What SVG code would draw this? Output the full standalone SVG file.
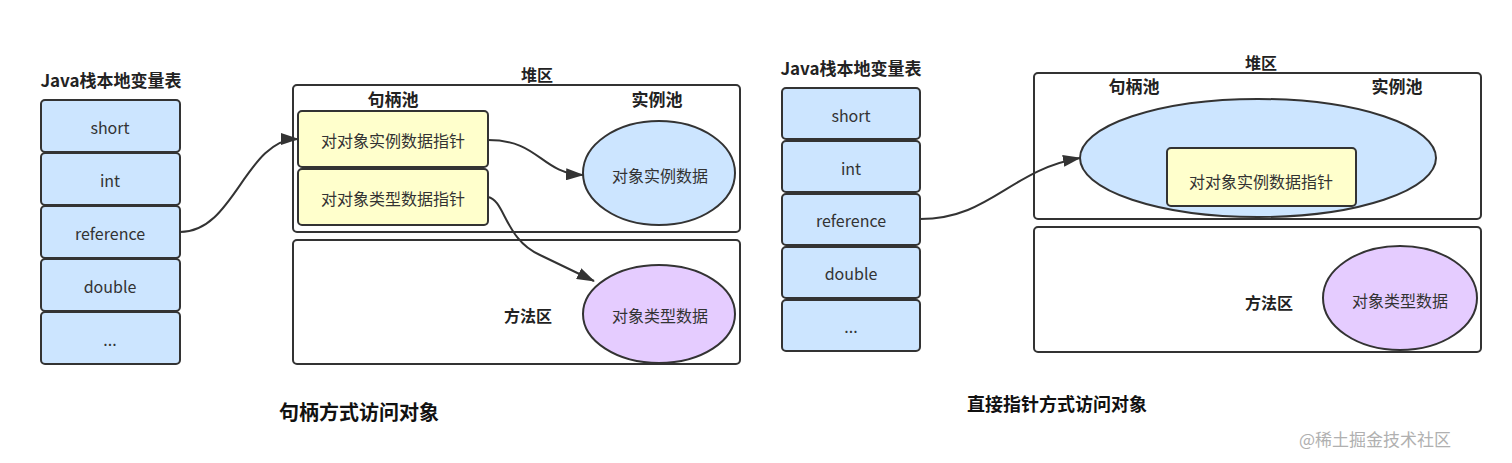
<svg xmlns="http://www.w3.org/2000/svg" width="1512" height="463" viewBox="0 0 1512 463">
<style>
text{font-family:"Noto Sans CJK SC","Noto Sans",sans-serif;fill:#333;text-anchor:middle;dominant-baseline:central}
.cell{fill:#cce5ff;stroke:#333;stroke-width:2}
.yel{fill:#ffffcc;stroke:#333;stroke-width:2}
.box{fill:#fff;stroke:#333;stroke-width:2}
.blue{fill:#cce5ff;stroke:#333;stroke-width:2}
.pur{fill:#e5ccff;stroke:#333;stroke-width:2}
.t{font-size:16px}
.b{font-weight:bold;fill:#222}
.cap{font-weight:bold;fill:#111}
.conn{fill:none;stroke:#333;stroke-width:2}
</style>
<defs>
<marker id="ah" markerWidth="18" markerHeight="12" refX="17" refY="6" orient="auto" markerUnits="userSpaceOnUse">
<path d="M0,0 L18,6 L0,12 Z" fill="#333"/>
</marker>
</defs>
<rect width="1512" height="463" fill="#fff"/>

<!-- Left: handle access -->
<g id="left-title"><text x="111" y="79" class="b" style="font-size:17px">Java栈本地变量表</text></g>
<g id="l-short"><rect class="cell" x="41" y="100" width="139" height="52" rx="4"/><text class="t" x="110" y="127">short</text></g>
<g id="l-int"><rect class="cell" x="41" y="153" width="139" height="52" rx="4"/><text class="t" x="110" y="180">int</text></g>
<g id="l-reference"><rect class="cell" x="41" y="206" width="139" height="52" rx="4"/><text class="t" x="110" y="233">reference</text></g>
<g id="l-double"><rect class="cell" x="41" y="259" width="139" height="52" rx="4"/><text class="t" x="110" y="286">double</text></g>
<g id="l-etc"><rect class="cell" x="41" y="312" width="139" height="52" rx="4"/><text class="t" x="110" y="339">...</text></g>

<g id="l-heap">
<rect class="box" x="293" y="85" width="447" height="147" rx="4"/>
<text x="537" y="74" class="b" style="font-size:16px">堆区</text>
<text x="393" y="98" class="b" style="font-size:17px">句柄池</text>
<text x="657" y="98" class="b" style="font-size:17px">实例池</text>
</g>
<g id="l-ptr-inst"><rect class="yel" x="298" y="111" width="190" height="56" rx="4"/><text class="t" x="393" y="140">对对象实例数据指针</text></g>
<g id="l-ptr-type"><rect class="yel" x="298" y="169" width="190" height="56" rx="4"/><text class="t" x="393" y="198">对对象类型数据指针</text></g>
<g id="l-inst"><ellipse class="blue" cx="659" cy="173" rx="76" ry="52"/><text class="t" x="660" y="175">对象实例数据</text></g>

<g id="l-method">
<rect class="box" x="293" y="240" width="447" height="124" rx="4"/>
<text x="528" y="315" class="b" style="font-size:16px">方法区</text>
</g>
<g id="l-type"><ellipse class="pur" cx="659" cy="314" rx="76" ry="49"/><text class="t" x="660" y="315">对象类型数据</text></g>

<g id="l-caption"><text x="359" y="411" class="cap" style="font-size:20px">句柄方式访问对象</text></g>

<!-- Right: direct pointer access -->
<g id="right-title"><text x="851" y="67" class="b" style="font-size:17px">Java栈本地变量表</text></g>
<g id="r-short"><rect class="cell" x="782" y="88" width="138" height="51" rx="4"/><text class="t" x="851" y="115">short</text></g>
<g id="r-int"><rect class="cell" x="782" y="141" width="138" height="51" rx="4"/><text class="t" x="851" y="168">int</text></g>
<g id="r-reference"><rect class="cell" x="782" y="194" width="138" height="51" rx="4"/><text class="t" x="851" y="220">reference</text></g>
<g id="r-double"><rect class="cell" x="782" y="247" width="138" height="51" rx="4"/><text class="t" x="851" y="273">double</text></g>
<g id="r-etc"><rect class="cell" x="782" y="300" width="138" height="51" rx="4"/><text class="t" x="851" y="326">...</text></g>

<g id="r-heap">
<rect class="box" x="1034" y="73" width="447" height="146" rx="4"/>
<text x="1261" y="62" class="b" style="font-size:16px">堆区</text>
<text x="1134" y="85" class="b" style="font-size:17px">句柄池</text>
<text x="1397" y="85" class="b" style="font-size:17px">实例池</text>
</g>
<g id="r-inst"><ellipse class="blue" cx="1258" cy="158" rx="178" ry="59"/></g>
<g id="r-ptr-type"><rect class="yel" x="1167" y="148" width="189" height="58" rx="4"/><text class="t" x="1261" y="181">对对象实例数据指针</text></g>

<g id="r-method">
<rect class="box" x="1034" y="227" width="447" height="125" rx="4"/>
<text x="1269" y="302" class="b" style="font-size:16px">方法区</text>
</g>
<g id="r-type"><ellipse class="pur" cx="1400" cy="298" rx="77" ry="52"/><text class="t" x="1400" y="300">对象类型数据</text></g>

<g id="r-caption"><text x="1057" y="403" class="cap" style="font-size:18px">直接指针方式访问对象</text></g>

<g id="watermark"><text x="1375" y="438" style="font-size:17px;fill:#b0b0b0">@稀土掘金技术社区</text></g>

<g id="connectors">
<path class="conn" marker-end="url(#ah)" d="M180,232 C235,232 245,139 298,139"/>
<path class="conn" marker-end="url(#ah)" d="M488,140 C540,140 540,173 583,175"/>
<path class="conn" marker-end="url(#ah)" d="M488,197 C505,200 505,240 540,255 L594,281"/>
<path class="conn" marker-end="url(#ah)" d="M920,219 C990,219 1010,170 1080,158"/>
</g>
</svg>
